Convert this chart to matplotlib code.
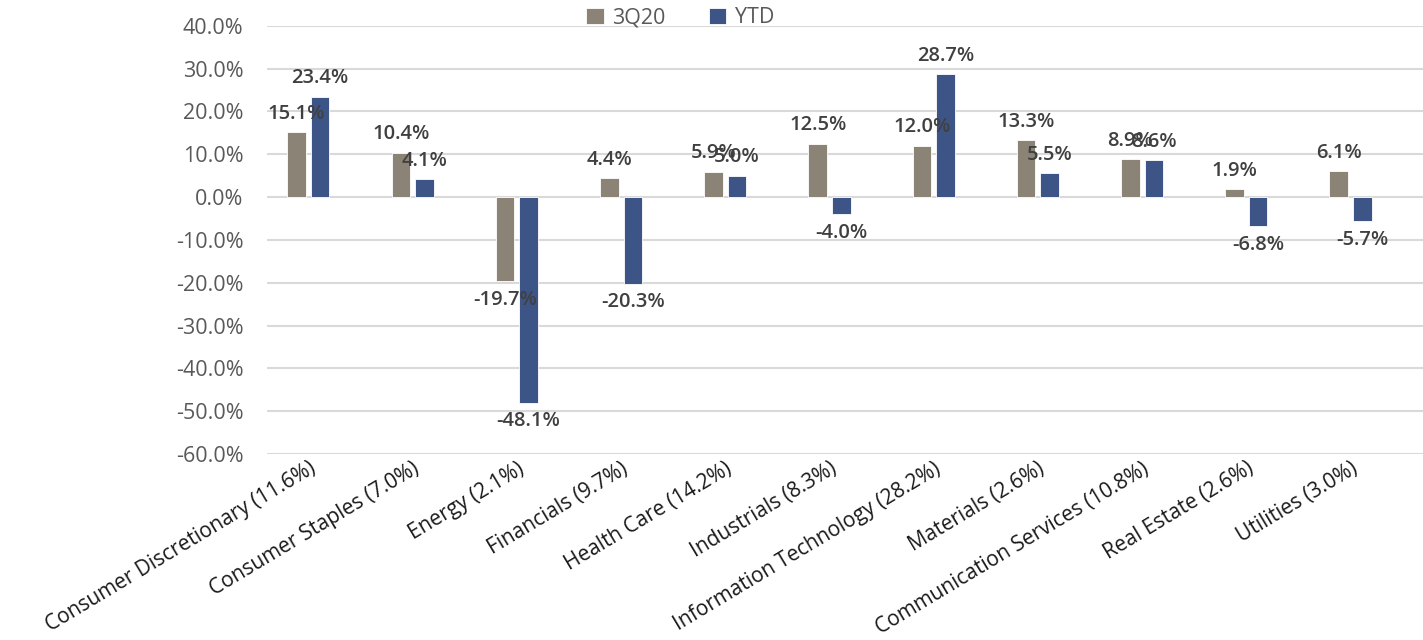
import numpy as np
import matplotlib.pyplot as plt
from matplotlib.ticker import FuncFormatter

# Sector returns, S&P 500 (index weight in parentheses)
sectors = [
    "Consumer Discretionary (11.6%)", "Consumer Staples (7.0%)", "Energy (2.1%)",
    "Financials (9.7%)", "Health Care (14.2%)", "Industrials (8.3%)",
    "Information Technology (28.2%)", "Materials (2.6%)",
    "Communication Services (10.8%)", "Real Estate (2.6%)", "Utilities (3.0%)",
]
q3_2020 = [15.1, 10.4, -19.7, 4.4, 5.9, 12.5, 12.0, 13.3, 8.9, 1.9, 6.1]
ytd = [23.4, 4.1, -48.1, -20.3, 5.0, -4.0, 28.7, 5.5, 8.6, -6.8, -5.7]
series_names = ["3Q20", "YTD"]
y_ticks = np.arange(-60, 41, 10)

plt.rcParams["font.family"] = ["Open Sans", "DejaVu Sans"]

fig = plt.figure(figsize=(14.23, 6.4), dpi=100)
ax = fig.add_axes([0.1876, 0.2906, 0.8124, 0.6692])

x = np.arange(len(sectors))
w = 0.178
off = 0.113
colors = ["#8c8377", "#3d5487"]

bars = []
for vals, dx, c, name in zip([q3_2020, ytd], [-off, off], colors, series_names):
    b = ax.bar(x + dx, vals, width=w, color=c, label=name, zorder=3,
               edgecolor="white", linewidth=0.6)
    bars.append(b)
    for xi, v in zip(x + dx, vals):
        ax.annotate(f"{v:.1f}%", (xi, v), xytext=(0, 6 if v >= 0 else -6),
                    textcoords="offset points", ha="center",
                    va="bottom" if v >= 0 else "top",
                    fontsize=14.5, fontweight="semibold", color="#404040", zorder=4)

ax.set_ylim(-60, 40)
ax.set_xlim(-0.398, 10.696)
ax.set_yticks(y_ticks)
ax.yaxis.set_major_formatter(FuncFormatter(lambda v, p: f"{v:.1f}%"))
ax.grid(axis="y", color="#d9d9d9", linewidth=1.5, zorder=0)
for s in ax.spines.values():
    s.set_visible(False)
ax.tick_params(axis="y", length=0, pad=17, labelsize=15.5, labelcolor="#595959")
ax.tick_params(axis="x", length=0, pad=3)

ax.set_xticks(x)
ax.set_xticklabels(sectors, rotation=31, ha="right", rotation_mode="anchor",
                   fontsize=15, color="#1a1a1a")

fig.legend(handles=bars, labels=series_names, loc="center", ncol=2,
           bbox_to_anchor=(0.478, 0.972), frameon=False, fontsize=15.5,
           labelcolor="#595959", handlelength=0.8, handleheight=0.8,
           handletextpad=0.4, columnspacing=2.0)

fig.savefig("out.png", dpi=100)
